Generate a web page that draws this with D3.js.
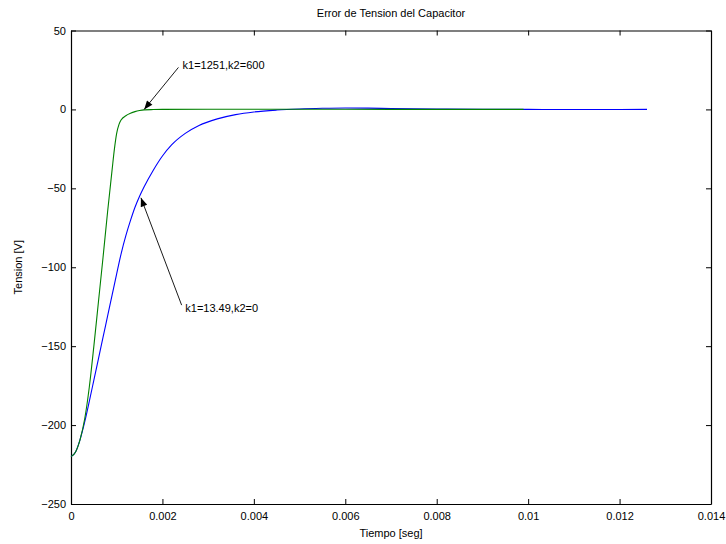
<!DOCTYPE html>
<html>
<head>
<meta charset="utf-8">
<script src="https://cdn.jsdelivr.net/npm/d3@7"></script>
<style>
body { margin: 0; background: #fff; }
text { font-family: "Liberation Sans", Arial, Helvetica, sans-serif; font-size: 11px; fill: #000; }
.axis path, .axis line { stroke: #000; }
</style>
</head>
<body>
<div id="chart"></div>
<script>

// tiempo [seg] y error de tension [V]
var tGreen = [0, 0.0001, 0.0002, 0.0003, 0.0004, 0.0005, 0.0006, 0.0007, 0.0008, 0.0009,
              0.00095, 0.001, 0.00105, 0.0011, 0.0012, 0.0013, 0.0014, 0.0015, 0.0016,
              0.0018, 0.002, 0.003, 0.004, 0.006, 0.008, 0.0099];
var vGreen = [-220, -217, -209, -196, -176, -150, -122, -94, -65, -38,
              -25, -15, -9.5, -6.5, -4, -2.5, -1.4, -0.7, -0.3,
              -0.1, 0, 0.1, 0.1, 0.1, 0, 0];

var tBlue = [0, 0.0001, 0.0002, 0.0003, 0.0004, 0.0005, 0.0006, 0.0007, 0.0008, 0.0009,
             0.001, 0.0011, 0.0012, 0.0013, 0.0014, 0.0015, 0.0016, 0.0018, 0.002,
             0.0022, 0.0025, 0.0028, 0.0032, 0.0036, 0.004, 0.0045, 0.005, 0.0055,
             0.006, 0.0065, 0.007, 0.008, 0.009, 0.01, 0.011, 0.012, 0.0126];
var vBlue = [-220, -217, -209, -198, -185, -171.5, -158, -144.5, -131, -117.5,
             -104, -91, -80, -70.5, -62, -55, -49, -38.5, -29.5,
             -22.5, -15.2, -10.2, -6, -3.3, -1.6, -0.4, 0.3, 0.7,
             0.9, 0.8, 0.6, 0.3, 0.1, 0, -0.1, -0.1, 0];

var xTicks = [0, 0.002, 0.004, 0.006, 0.008, 0.01, 0.012, 0.014];
var yTicks = [50, 0, -50, -100, -150, -200, -250];

// anotaciones: texto, punta de flecha y cola en coordenadas de datos
var notes = [
  {label: "k1=1251,k2=600", tip: [0.0016, 0], tail: [0.00235, 26.6], pos: [0.00244, 28]},
  {label: "k1=13.49,k2=0", tip: [0.00153, -56], tail: [0.00242, -124], pos: [0.0025, -126]}
];

var W = 726, H = 544;
var margin = {top: 30.5, right: 15, bottom: 40, left: 71},
    width = W - margin.left - margin.right,
    height = H - margin.top - margin.bottom;

var svg = d3.select("#chart").append("svg")
    .attr("width", W)
    .attr("height", H);

var g = svg.append("g")
    .attr("transform", "translate(" + margin.left + "," + margin.top + ")");

var x = d3.scaleLinear().domain([0, 0.014]).range([0, width]);
var y = d3.scaleLinear().domain([-250, 50]).range([height, 0]);

var fmtY = function(d) { return d < 0 ? "\u2212" + Math.abs(d) : d; };

g.append("g").attr("class", "axis")
    .attr("transform", "translate(0," + height + ")")
    .call(d3.axisBottom(x).tickValues(xTicks).tickFormat(d3.format("")).tickSizeInner(-5).tickSizeOuter(0).tickPadding(8));

g.append("g").attr("class", "axis")
    .call(d3.axisTop(x).tickValues(xTicks).tickFormat("").tickSizeInner(-5).tickSizeOuter(0));

g.append("g").attr("class", "axis")
    .call(d3.axisLeft(y).tickValues(yTicks).tickFormat(fmtY).tickSizeInner(-5).tickSizeOuter(0).tickPadding(5));

g.append("g").attr("class", "axis")
    .attr("transform", "translate(" + width + ",0)")
    .call(d3.axisRight(y).tickValues(yTicks).tickFormat("").tickSizeInner(-5).tickSizeOuter(0));

g.selectAll(".axis text").style("font-size", "11px").style("font-family", null);
g.selectAll(".axis .domain").attr("stroke-width", 1.2);

var line = d3.line()
    .x(function(d) { return x(d[0]); })
    .y(function(d) { return y(d[1]); })
    .curve(d3.curveMonotoneX);

g.append("path")
    .datum(d3.zip(tBlue, vBlue))
    .attr("fill", "none")
    .attr("stroke", "#0000ff")
    .attr("stroke-width", 1.1)
    .attr("d", line);

g.append("path")
    .datum(d3.zip(tGreen, vGreen))
    .attr("fill", "none")
    .attr("stroke", "#008000")
    .attr("stroke-width", 1.1)
    .attr("d", line);

svg.append("defs").append("marker")
    .attr("id", "head")
    .attr("markerUnits", "userSpaceOnUse")
    .attr("viewBox", "0 0 10 8")
    .attr("refX", 10).attr("refY", 4)
    .attr("markerWidth", 10).attr("markerHeight", 7)
    .attr("orient", "auto")
  .append("path")
    .attr("d", "M0,0 L10,4 L0,8 Z")
    .attr("fill", "#000");

notes.forEach(function(n) {
  g.append("line")
      .attr("x1", x(n.tail[0])).attr("y1", y(n.tail[1]))
      .attr("x2", x(n.tip[0])).attr("y2", y(n.tip[1]))
      .attr("stroke", "#000")
      .attr("stroke-width", 0.9)
      .attr("marker-end", "url(#head)");
  g.append("text")
      .attr("x", x(n.pos[0]))
      .attr("y", y(n.pos[1]))
      .attr("dy", "0.35em")
      .text(n.label);
});

svg.append("text")
    .attr("x", margin.left + width / 2)
    .attr("y", 17)
    .attr("text-anchor", "middle")
    .text("Error de Tension del Capacitor");

svg.append("text")
    .attr("x", margin.left + width / 2)
    .attr("y", 537)
    .attr("text-anchor", "middle")
    .text("Tiempo [seg]");

svg.append("text")
    .attr("transform", "translate(22," + (margin.top + height / 2) + ") rotate(-90)")
    .attr("text-anchor", "middle")
    .text("Tension [V]");

</script>
</body>
</html>
